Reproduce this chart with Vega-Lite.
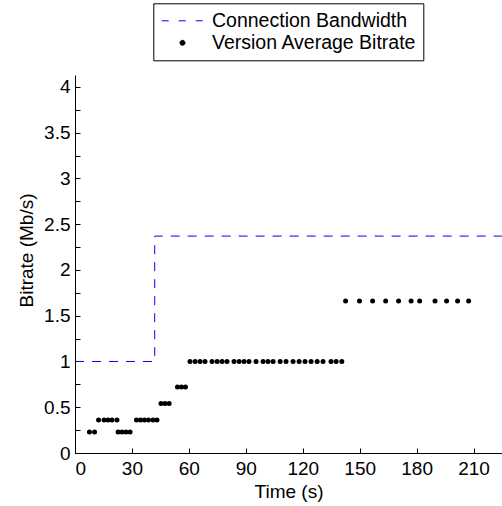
{
  "$schema": "https://vega.github.io/schema/vega-lite/v6.json",
  "width": 427,
  "height": 378,
  "autosize": {"type": "none"},
  "padding": {"left": 75, "top": 75, "right": 0, "bottom": 53},
  "background": "white",
  "config": {
    "font": "Liberation Sans",
    "view": {"stroke": null},
    "axis": {
      "grid": false,
      "domainColor": "black",
      "domainWidth": 1,
      "tickColor": "black",
      "tickWidth": 1,
      "tickSize": -5,
      "labelColor": "black",
      "labelFontSize": 19,
      "labelFont": "Liberation Sans",
      "titleColor": "black",
      "titleFontSize": 19,
      "titleFontWeight": "normal",
      "titleFont": "Liberation Sans"
    }
  },
  "datasets": {
    "bandwidth": [
      {"step": 0, "time": 0, "bitrate": 1, "series": "Connection Bandwidth"},
      {"step": 1, "time": 42, "bitrate": 1, "series": "Connection Bandwidth"},
      {"step": 2, "time": 42, "bitrate": 2.37, "series": "Connection Bandwidth"},
      {"step": 3, "time": 225, "bitrate": 2.37, "series": "Connection Bandwidth"}
    ],
    "versions": [
      {"time": 7.6, "bitrate": 0.23, "series": "Version Average Bitrate"},
      {"time": 10.3, "bitrate": 0.23, "series": "Version Average Bitrate"},
      {"time": 12.4, "bitrate": 0.36, "series": "Version Average Bitrate"},
      {"time": 15.3, "bitrate": 0.36, "series": "Version Average Bitrate"},
      {"time": 17.4, "bitrate": 0.36, "series": "Version Average Bitrate"},
      {"time": 19.5, "bitrate": 0.36, "series": "Version Average Bitrate"},
      {"time": 22.1, "bitrate": 0.36, "series": "Version Average Bitrate"},
      {"time": 22.7, "bitrate": 0.23, "series": "Version Average Bitrate"},
      {"time": 24.8, "bitrate": 0.23, "series": "Version Average Bitrate"},
      {"time": 26.9, "bitrate": 0.23, "series": "Version Average Bitrate"},
      {"time": 29.0, "bitrate": 0.23, "series": "Version Average Bitrate"},
      {"time": 32.4, "bitrate": 0.36, "series": "Version Average Bitrate"},
      {"time": 34.5, "bitrate": 0.36, "series": "Version Average Bitrate"},
      {"time": 36.6, "bitrate": 0.36, "series": "Version Average Bitrate"},
      {"time": 38.7, "bitrate": 0.36, "series": "Version Average Bitrate"},
      {"time": 41.1, "bitrate": 0.36, "series": "Version Average Bitrate"},
      {"time": 43.2, "bitrate": 0.36, "series": "Version Average Bitrate"},
      {"time": 45.3, "bitrate": 0.54, "series": "Version Average Bitrate"},
      {"time": 47.4, "bitrate": 0.54, "series": "Version Average Bitrate"},
      {"time": 49.6, "bitrate": 0.54, "series": "Version Average Bitrate"},
      {"time": 54.0, "bitrate": 0.72, "series": "Version Average Bitrate"},
      {"time": 56.1, "bitrate": 0.72, "series": "Version Average Bitrate"},
      {"time": 58.2, "bitrate": 0.72, "series": "Version Average Bitrate"},
      {"time": 60.6, "bitrate": 1.0, "series": "Version Average Bitrate"},
      {"time": 63.3, "bitrate": 1.0, "series": "Version Average Bitrate"},
      {"time": 65.9, "bitrate": 1.0, "series": "Version Average Bitrate"},
      {"time": 68.5, "bitrate": 1.0, "series": "Version Average Bitrate"},
      {"time": 72.2, "bitrate": 1.0, "series": "Version Average Bitrate"},
      {"time": 74.9, "bitrate": 1.0, "series": "Version Average Bitrate"},
      {"time": 77.5, "bitrate": 1.0, "series": "Version Average Bitrate"},
      {"time": 80.1, "bitrate": 1.0, "series": "Version Average Bitrate"},
      {"time": 83.8, "bitrate": 1.0, "series": "Version Average Bitrate"},
      {"time": 86.5, "bitrate": 1.0, "series": "Version Average Bitrate"},
      {"time": 89.1, "bitrate": 1.0, "series": "Version Average Bitrate"},
      {"time": 91.7, "bitrate": 1.0, "series": "Version Average Bitrate"},
      {"time": 95.4, "bitrate": 1.0, "series": "Version Average Bitrate"},
      {"time": 99.1, "bitrate": 1.0, "series": "Version Average Bitrate"},
      {"time": 101.7, "bitrate": 1.0, "series": "Version Average Bitrate"},
      {"time": 104.4, "bitrate": 1.0, "series": "Version Average Bitrate"},
      {"time": 108.1, "bitrate": 1.0, "series": "Version Average Bitrate"},
      {"time": 111.2, "bitrate": 1.0, "series": "Version Average Bitrate"},
      {"time": 114.9, "bitrate": 1.0, "series": "Version Average Bitrate"},
      {"time": 118.1, "bitrate": 1.0, "series": "Version Average Bitrate"},
      {"time": 121.2, "bitrate": 1.0, "series": "Version Average Bitrate"},
      {"time": 124.4, "bitrate": 1.0, "series": "Version Average Bitrate"},
      {"time": 127.6, "bitrate": 1.0, "series": "Version Average Bitrate"},
      {"time": 130.7, "bitrate": 1.0, "series": "Version Average Bitrate"},
      {"time": 134.9, "bitrate": 1.0, "series": "Version Average Bitrate"},
      {"time": 137.6, "bitrate": 1.0, "series": "Version Average Bitrate"},
      {"time": 140.6, "bitrate": 1.0, "series": "Version Average Bitrate"},
      {"time": 142.6, "bitrate": 1.66, "series": "Version Average Bitrate"},
      {"time": 149.9, "bitrate": 1.66, "series": "Version Average Bitrate"},
      {"time": 156.8, "bitrate": 1.66, "series": "Version Average Bitrate"},
      {"time": 163.7, "bitrate": 1.66, "series": "Version Average Bitrate"},
      {"time": 170.5, "bitrate": 1.66, "series": "Version Average Bitrate"},
      {"time": 177.1, "bitrate": 1.66, "series": "Version Average Bitrate"},
      {"time": 181.6, "bitrate": 1.66, "series": "Version Average Bitrate"},
      {"time": 189.7, "bitrate": 1.66, "series": "Version Average Bitrate"},
      {"time": 195.8, "bitrate": 1.66, "series": "Version Average Bitrate"},
      {"time": 201.6, "bitrate": 1.66, "series": "Version Average Bitrate"},
      {"time": 207.4, "bitrate": 1.66, "series": "Version Average Bitrate"}
    ]
  },
  "encoding": {
    "x": {
      "field": "time",
      "type": "quantitative",
      "scale": {"domain": [0, 225], "nice": false, "zero": false},
      "axis": {
        "title": "Time (s)",
        "values": [0, 30, 60, 90, 120, 150, 180, 210],
        "format": "d",
        "labelPadding": 11.5,
        "titlePadding": 4
      }
    },
    "y": {
      "field": "bitrate",
      "type": "quantitative",
      "scale": {"domain": [0, 4.13], "nice": false, "zero": false},
      "axis": {
        "title": "Bitrate (Mb/s)",
        "values": [0, 0.25, 0.5, 0.75, 1, 1.25, 1.5, 1.75, 2, 2.25, 2.5, 2.75, 3, 3.25, 3.5, 3.75, 4],
        "labelExpr": "datum.value % 0.5 == 0 ? format(datum.value, '~g') : ''",
        "labelPadding": 10,
        "titlePadding": 7,
        "titleY": 175
      }
    },
    "color": {
      "field": "series",
      "type": "nominal",
      "scale": {
        "domain": ["Connection Bandwidth", "Version Average Bitrate"],
        "range": ["#0000ff", "#000000"]
      },
      "legend": {
        "title": null,
        "orient": "none",
        "legendX": 78.3,
        "legendY": -71.7,
        "direction": "vertical",
        "symbolType": "stroke",
        "symbolSize": 1730,
        "symbolStrokeWidth": 1,
        "symbolOffset": 1.2,
        "clipHeight": 22,
        "rowPadding": 0,
        "labelOffset": 8,
        "labelFontSize": 19.5,
        "labelFont": "Liberation Sans",
        "labelColor": "black",
        "labelLimit": 400,
        "padding": 6.5,
        "strokeColor": "black",
        "fillColor": "white",
        "encode": {
          "symbols": {
            "update": {
              "shape": {"signal": "datum.value === 'Version Average Bitrate' ? 'circle' : 'stroke'"},
              "size": {"signal": "datum.value === 'Version Average Bitrate' ? 25 : 1730"},
              "fill": {"signal": "datum.value === 'Version Average Bitrate' ? 'black' : 'transparent'"},
              "stroke": {"signal": "datum.value === 'Version Average Bitrate' ? 'transparent' : '#0000ff'"},
              "strokeDash": {"signal": "datum.value === 'Version Average Bitrate' ? [1, 0] : [7, 10]"},
              "strokeWidth": {"value": 1},
              "opacity": {"value": 1}
            }
          }
        }
      }
    }
  },
  "layer": [
    {
      "data": {"name": "bandwidth"},
      "mark": {"type": "line", "strokeWidth": 1, "strokeDash": [9, 8], "clip": true},
      "encoding": {
        "order": {"field": "step", "type": "quantitative"}
      }
    },
    {
      "data": {"name": "versions"},
      "mark": {"type": "point", "filled": true, "size": 25, "opacity": 1, "strokeWidth": 0},
      "encoding": {}
    }
  ]
}
